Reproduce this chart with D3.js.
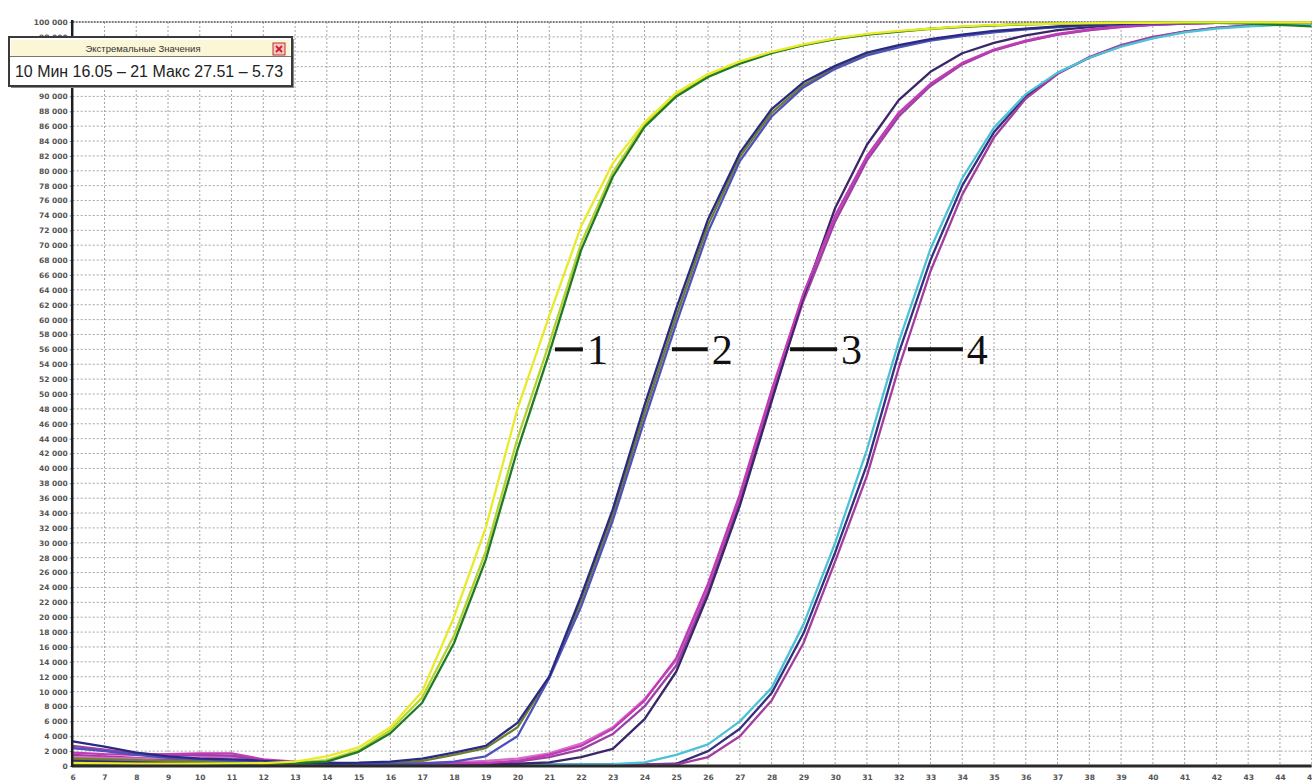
<!DOCTYPE html>
<html>
<head>
<meta charset="utf-8">
<script src="https://cdn.jsdelivr.net/npm/d3@7"></script>
<style>
  html, body { margin: 0; padding: 0; background: #ffffff; }
  svg { display: block; }
</style>
</head>
<body>
<svg id="chart" width="1312" height="783"></svg>
<script>
// ---------------- DATA ----------------
const cycles = [6,7,8,9,10,11,12,13,14,15,16,17,18,19,20,21,22,23,24,25,26,27,28,29,30,31,32,33,34,35,36,37,38,39,40,41,42,43,44,45];
const xTickLabels = cycles;
const yTickValues = [0,2000,4000,6000,8000,10000,12000,14000,16000,18000,20000,22000,24000,26000,28000,30000,32000,34000,36000,38000,40000,42000,44000,46000,48000,50000,52000,54000,56000,58000,60000,62000,64000,66000,68000,70000,72000,74000,76000,78000,80000,82000,84000,86000,88000,90000,92000,94000,96000,98000,100000];

// Group 1
const g1Yellow      = [400,350,300,300,300,350,400,600, 1300,2500,5200,10000,20000,32000,48000,60500,72500,81000,86500,90500,93000,94700,96000,97000,97800,98400,98800,99100,99400,99600,99700,99800,99850,99900,99900,99950,99950,99950,99950,99950];
const g1YellowGreen = [300,300,250,250,250,300,300,450, 800,2100,4800,9200,17500,28800,44000,56800,70200,79800,86200,90300,92800,94600,95900,96900,97700,98300,98700,99050,99350,99550,99700,99800,99850,99900,99900,99950,99950,99950,99950,99950];
const g1DarkGreen   = [200,200,250,250,300,300,350,400, 600,1900,4400,8500,16500,27700,42500,55500,69300,79200,85900,90000,92600,94400,95800,96900,97700,98300,98700,99100,99350,99550,99700,99800,99850,99900,99900,99900,99900,99800,99600,99400];
// Group 2
const g2Navy  = [3300,2600,1800,1300,1000,900,700,500, 400,450,600,1000,1800,2700,5800,12000,22800,34500,48500,61500,73500,82400,88300,91900,94100,95900,96900,97700,98300,98800,99100,99400,99600,99750,99850,99900,99900,99950,99950,99950];
const g2Blue  = [2400,2000,1500,1100,900,700,600,400, 300,250,250,300,600,1300,4000,11800,21400,33000,46500,59500,71800,81300,87300,91200,93700,95500,96600,97500,98100,98600,99000,99300,99550,99700,99800,99850,99900,99900,99950,99950];
const g2Olive = [1000,900,800,700,600,500,400,300, 300,300,400,700,1500,2400,5200,11900,22200,33800,47500,60500,72700,81900,87800,91500,93900,95700,96800,97600,98200,98700,99050,99350,99600,99750,99850,99900,99900,99950,99950,99950];
// Group 3
const g3Magenta = [1800,1600,1500,1600,1700,1700,900,600, 400,300,300,300,350,400,700,1500,2700,5000,8800,14500,24500,36500,50500,63500,74000,82000,87800,91700,94500,96300,97500,98400,99000,99400,99650,99800,99900,99950,99950,99950];
const g3Purple  = [2700,2200,1700,1500,1500,1400,800,500, 400,300,300,300,300,400,600,1200,2200,4300,8000,13500,23500,35500,49500,62500,73200,81400,87300,91400,94300,96200,97400,98300,98900,99350,99600,99800,99900,99950,99950,99950];
const g3Pink    = [1200,1100,1000,1100,1200,1200,700,500, 400,350,350,400,500,700,1000,1700,3000,5200,9000,14200,24000,36000,50000,63000,73600,81700,87500,91500,94400,96200,97400,98300,98900,99300,99600,99800,99900,99950,99950,99950];
const g3Dark    = [600,500,400,400,400,350,300,250, 200,200,200,200,200,250,300,500,1200,2300,6300,12700,23000,35000,49000,63000,75000,83500,89500,93300,95800,97200,98200,98900,99300,99600,99800,99900,99950,99950,99950,99950];
// Group 4
const g4Cyan   = [2400,2100,1600,1200,900,700,500,400, 300,300,250,250,200,200,200,200,200,250,500,1500,2900,6000,10500,19000,30000,42500,57000,69500,79000,85800,90300,93200,95200,96700,97800,98600,99100,99400,99600,99700];
const g4Purple = [1500,1300,1100,900,800,600,500,400, 300,250,200,200,200,200,200,200,200,200,200,200,1200,4000,8800,16500,27500,39000,53500,66500,76800,84500,89700,93000,95300,96900,98000,98700,99200,99500,99700,99800];
const g4Dark   = [800,700,600,500,400,400,300,300, 200,200,200,200,200,200,200,200,200,200,200,300,2000,5000,9800,17800,28700,40500,55500,68000,78000,85200,90000,93100,95200,96800,97900,98700,99200,99500,99700,99800];

const seriesNames  = ["g4Dark","g4Purple","g4Cyan","g3Pink","g3Purple","g3Dark","g3Magenta","g2Olive","g2Blue","g2Navy","g1YellowGreen","g1DarkGreen","g1Yellow"];
const seriesValues = [g4Dark,g4Purple,g4Cyan,g3Pink,g3Purple,g3Dark,g3Magenta,g2Olive,g2Blue,g2Navy,g1YellowGreen,g1DarkGreen,g1Yellow];
const seriesColors = ["#34307c","#a23c9e","#4cc2d6","#d66ac8","#9a42a4","#3a2668","#c23ab6","#6e7e30","#4e52b8","#2a2a82","#b4d42c","#207a28","#e8ea2a"];

const annotLabels = ["1","2","3","4"];
const annotStart  = [21.18,24.86,28.58,32.29];
const annotEnd    = [22.06,25.99,30.06,34.02];
const annotValue  = 56000;

const boxTitle = "Экстремальные Значения";
const boxText  = "10 Мин 16.05 – 21 Макс 27.51 – 5.73";

// ---------------- CHART ----------------
const svg = d3.select("#chart");
const x = d3.scaleLinear().domain([6,45]).range([72.7,1311.7]);
const y = d3.scaleLinear().domain([0,100000]).range([766,22]);

const locale = d3.formatLocale({decimal:".", thousands:" ", grouping:[3], currency:["",""]});
const fmt = locale.format(",");

svg.append("rect").attr("width",1312).attr("height",783).attr("fill","#ffffff");

// grid
const grid = svg.append("g");
grid.selectAll("line.h").data(yTickValues.filter(v => v > 0 && v < 100000)).join("line")
  .attr("x1", x(6)).attr("x2", x(45))
  .attr("y1", d => y(d)).attr("y2", d => y(d))
  .attr("stroke","#a4a4a4").attr("stroke-width",1).attr("stroke-dasharray","2,2");
grid.selectAll("line.v").data(cycles.filter(c => c > 6)).join("line")
  .attr("x1", d => x(d)).attr("x2", d => x(d))
  .attr("y1", y(100000)).attr("y2", y(0))
  .attr("stroke","#a4a4a4").attr("stroke-width",1).attr("stroke-dasharray","2,2");
grid.append("line")
  .attr("x1", x(6)).attr("x2", x(45)).attr("y1", y(100000)).attr("y2", y(100000))
  .attr("stroke","#555").attr("stroke-width",1.5).attr("stroke-dasharray","2,1");

// curves
svg.append("clipPath").attr("id","clip").append("rect")
  .attr("x", x(6)).attr("y", y(100000)-3).attr("width", x(45)-x(6)).attr("height", y(0)-y(100000)+3);
const line = d3.line().x((d,i) => x(cycles[i])).y(d => y(d));
svg.append("g").attr("clip-path","url(#clip)")
  .selectAll("path").data(seriesValues).join("path")
  .attr("d", d => line(d))
  .attr("fill","none")
  .attr("stroke", (d,i) => seriesColors[i])
  .attr("stroke-width", 2.3)
  .attr("stroke-linejoin","round");

// axes
const yAxis = d3.axisLeft(y).tickValues(yTickValues).tickFormat(fmt).tickSize(3).tickPadding(2);
const gy = svg.append("g").attr("transform", `translate(${x(6)},0)`).call(yAxis);
gy.select(".domain").remove();
gy.selectAll(".tick line").attr("stroke","#888");
gy.selectAll(".tick text").attr("fill","#555").attr("font-family","DejaVu Sans, sans-serif")
  .attr("font-size","7.5px").attr("font-weight","bold");

const xAxis = d3.axisBottom(x).tickValues(xTickLabels).tickFormat(d3.format("d")).tickSize(0).tickPadding(9);
const gx = svg.append("g").attr("transform", `translate(0,${y(0)})`).call(xAxis);
gx.select(".domain").remove();
gx.selectAll(".tick text").attr("fill","#555").attr("font-family","DejaVu Sans, sans-serif")
  .attr("font-size","7.5px").attr("font-weight","bold");

svg.append("line").attr("x1", x(6)-1).attr("x2", x(45)).attr("y1", y(0)).attr("y2", y(0))
  .attr("stroke","#2a2a2a").attr("stroke-width",3);
svg.append("line").attr("x1", x(6)-0.5).attr("x2", x(6)-0.5).attr("y1", y(100000)-2).attr("y2", y(0)+1)
  .attr("stroke","#1e1e1e").attr("stroke-width",2.5);

// annotations
const ann = svg.append("g");
annotLabels.forEach((lab,i) => {
  ann.append("line")
    .attr("x1", x(annotStart[i])).attr("x2", x(annotEnd[i]))
    .attr("y1", y(annotValue)).attr("y2", y(annotValue))
    .attr("stroke","#111").attr("stroke-width",4);
  ann.append("text")
    .attr("x", x(annotEnd[i]) + 4).attr("y", y(annotValue) + 15)
    .attr("font-family","Liberation Serif, Times New Roman, serif")
    .attr("font-size","42px").attr("fill","#111").text(lab);
});

// info box
const box = svg.append("g");
box.append("rect").attr("x",11).attr("y",39).attr("width",283).attr("height",49).attr("fill","#8a8a8a");
box.append("rect").attr("x",9).attr("y",37).attr("width",283).attr("height",49)
  .attr("fill","#ffffff").attr("stroke","#3a3a3a").attr("stroke-width",2);
box.append("rect").attr("x",11).attr("y",40).attr("width",279).attr("height",16).attr("fill","#fbf6d6");
box.append("line").attr("x1",10).attr("x2",291).attr("y1",56.5).attr("y2",56.5).attr("stroke","#777").attr("stroke-width",1);
box.append("text").attr("x",143).attr("y",52).attr("text-anchor","middle")
  .attr("font-family","Liberation Sans, Arial, sans-serif").attr("font-size","9.5px").attr("fill","#333").text(boxTitle);
box.append("rect").attr("x",273).attr("y",43).attr("width",12).attr("height",12)
  .attr("fill","#f4c8c8").attr("stroke","#c03030").attr("stroke-width",1);
box.append("path").attr("d","M276,46 L282,52 M282,46 L276,52").attr("stroke","#d02020").attr("stroke-width",1.8);
box.append("text").attr("x",15).attr("y",77)
  .attr("font-family","Liberation Sans, Arial, sans-serif").attr("font-size","16px").attr("fill","#222")
  .attr("textLength",268).attr("lengthAdjust","spacingAndGlyphs").text(boxText);
</script>
</body>
</html>
